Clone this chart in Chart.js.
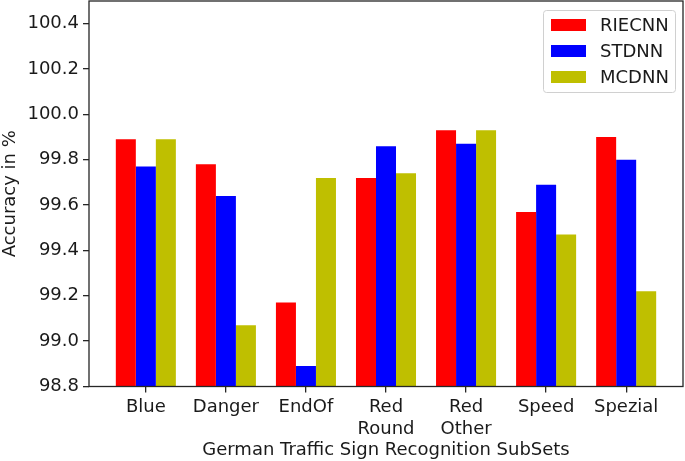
<!DOCTYPE html>
<html>
<head>
<meta charset="utf-8">
<script src="https://cdn.jsdelivr.net/npm/chart.js@4/dist/chart.umd.min.js"></script>
<style>
  html, body { margin: 0; padding: 0; background: #fff; }
  #wrap { width: 685px; height: 461px; }
</style>
</head>
<body>
<div id="wrap"><canvas id="chart"></canvas></div>
<script>
// --- DATA ---
const categories = ["Blue", "Danger", "EndOf", ["Red", "Round"], ["Red", "Other"], "Speed", "Spezial"];
const riecnn = [99.89, 99.78, 99.17, 99.72, 99.93, 99.57, 99.90];
const stdnn  = [99.77, 99.64, 98.89, 99.86, 99.87, 99.69, 99.80];
const mcdnn  = [99.89, 99.07, 99.72, 99.74, 99.93, 99.47, 99.22];
const yTicks = [98.8, 99.0, 99.2, 99.4, 99.6, 99.8, 100.0, 100.2, 100.4];

const FONT = "'DejaVu Sans', sans-serif";
const TXT = "#1a1a1a";

function pts(arr) { return arr.map((v, i) => ({ x: i, y: v })); }

// frame around plot area (matplotlib style box)
const framePlugin = {
  id: 'frame',
  afterDraw(chart) {
    const a = chart.chartArea, ctx = chart.ctx;
    ctx.save();
    ctx.strokeStyle = "#262626";
    ctx.lineWidth = 1.3;
    ctx.strokeRect(a.left, a.top, a.right - a.left, a.bottom - a.top);
    ctx.restore();
  }
};

// legend box in upper right, drawn from the datasets
const legendPlugin = {
  id: 'boxLegend',
  afterDraw(chart) {
    const a = chart.chartArea, ctx = chart.ctx;
    const w = 132, h = 82;
    const x = a.right - 8 - w, y = a.top + 9;
    ctx.save();
    ctx.fillStyle = "rgba(255,255,255,0.85)";
    ctx.strokeStyle = "#d0d0d0";
    ctx.lineWidth = 1;
    ctx.beginPath();
    ctx.roundRect(x + 0.5, y + 0.5, w, h, 3);
    ctx.fill();
    ctx.stroke();
    ctx.font = "18px " + FONT;
    ctx.textBaseline = "middle";
    chart.data.datasets.forEach((ds, i) => {
      const cy = y + 15 + i * 26;
      ctx.fillStyle = ds.backgroundColor;
      ctx.fillRect(x + 8, cy - 6, 35, 12);
      ctx.fillStyle = TXT;
      ctx.fillText(ds.label, x + 57, cy + 1);
    });
    ctx.restore();
  }
};

new Chart(document.getElementById('chart'), {
  type: 'bar',
  data: {
    datasets: [
      { label: "RIECNN", data: pts(riecnn), backgroundColor: "#ff0000" },
      { label: "STDNN",  data: pts(stdnn),  backgroundColor: "#0000ff" },
      { label: "MCDNN",  data: pts(mcdnn),  backgroundColor: "#bfbf00" }
    ]
  },
  options: {
    responsive: true,
    maintainAspectRatio: false,
    animation: false,
    layout: { padding: { top: 1, right: 2, left: 0, bottom: 0 } },
    datasets: { bar: { barPercentage: 1.0, categoryPercentage: 0.75 } },
    plugins: { legend: { display: false }, tooltip: { enabled: false } },
    scales: {
      x: {
        type: 'linear',
        min: -0.71, max: 6.71,
        offset: false,
        afterBuildTicks(scale) { scale.ticks = categories.map((c, i) => ({ value: i })); },
        afterFit(scale) { scale.height = 74.5; scale.paddingLeft = 0; scale.paddingRight = 0; },
        ticks: {
          callback: (v) => categories[v],
          font: { family: FONT, size: 18 }, color: TXT, padding: 4, maxRotation: 0, autoSkip: false
        },
        grid: { offset: false, drawOnChartArea: false, drawTicks: true, tickLength: 6, color: "#262626", lineWidth: 1.3 },
        border: { display: false },
        title: {
          display: true, text: "German Traffic Sign Recognition SubSets",
          font: { family: FONT, size: 18 }, color: TXT, padding: { top: 4, bottom: 0 }
        }
      },
      y: {
        min: 98.8, max: 100.5,
        afterBuildTicks(scale) { scale.ticks = yTicks.map(v => ({ value: v })); },
        afterFit(scale) { scale.width = 89; scale.paddingTop = 0; scale.paddingBottom = 0; },
        ticks: {
          callback: (v) => v.toFixed(1),
          font: { family: FONT, size: 18 }, color: TXT, padding: 4
        },
        grid: { drawOnChartArea: false, drawTicks: true, tickLength: 6, color: "#262626", lineWidth: 1.3 },
        border: { display: false },
        title: {
          display: true, text: "Accuracy in %",
          font: { family: FONT, size: 18 }, color: TXT, padding: { top: 0, bottom: 2 }
        }
      }
    }
  },
  plugins: [framePlugin, legendPlugin]
});
</script>
</body>
</html>
